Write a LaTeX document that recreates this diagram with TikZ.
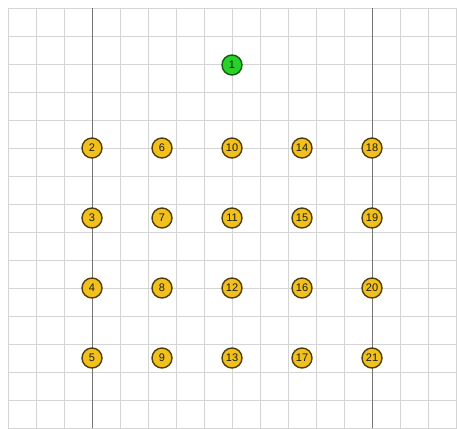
\documentclass[tikz,border=0pt]{standalone}
\usepackage{fontspec}
\setmainfont{Liberation Sans}
\definecolor{gridc}{RGB}{212,212,212}
\definecolor{axisc}{RGB}{115,115,115}
\definecolor{yfill}{RGB}{242,192,28}
\definecolor{ydraw}{RGB}{80,62,8}
\definecolor{gfill}{RGB}{40,210,40}
\definecolor{gdraw}{RGB}{20,90,20}
\tikzset{
  pt/.style={circle, minimum size=20pt, inner sep=0pt, line width=1.4pt,
    font=\fontsize{11}{11}\selectfont, text=black!90},
  ynode/.style={pt, fill=yfill, draw=ydraw},
  gnode/.style={pt, fill=gfill, draw=gdraw},
}
\begin{document}
\begin{tikzpicture}[x=1pt,y=-1pt]
\useasboundingbox (0,0) rectangle (457,428);
\fill[white] (0,0) rectangle (457,428);
% grid
\foreach \i in {0,...,16} {
  \draw[gridc, line width=0.9pt] ({8+28*\i},8) -- ({8+28*\i},428);
}
\foreach \j in {0,...,15} {
  \draw[gridc, line width=0.9pt] (8,{8+28*\j}) -- (457,{8+28*\j});
}
% dark vertical lines
\draw[axisc, line width=1pt] (92,8) -- (92,428);
\draw[axisc, line width=1pt] (372,8) -- (372,428);
% nodes
\node[gnode] (n1) at (232,65) {1};
\foreach \c [count=\ci from 0] in {92,162,232,302,372} {
  \foreach \r [count=\ri from 0] in {148,218,288,358} {
    \pgfmathtruncatemacro{\num}{2+4*\ci+\ri}
    \node[ynode] (n\num) at (\c,\r) {\num};
  }
}
\end{tikzpicture}
\end{document}
